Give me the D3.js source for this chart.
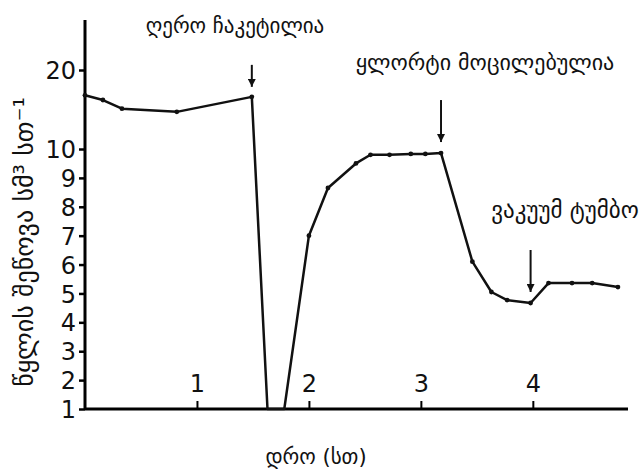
<!DOCTYPE html>
<html>
<head>
<meta charset="utf-8">
<script src="https://d3js.org/d3.v7.min.js"></script>
<style>
  body { margin: 0; background: #fff; }
  text { font-family: "DejaVu Sans", sans-serif; fill: #111; }
</style>
</head>
<body>
<div id="chart"></div>
<script>
// readings: time in hours, uptake in cm3/h
const hours  = [0, 0.16, 0.33, 0.82, 1.49, 1.63, 1.78, 2.0, 2.17, 2.42, 2.55, 2.72, 2.91, 3.04, 3.18, 3.46, 3.63, 3.77, 3.98, 4.14, 4.35, 4.53, 4.76];
const uptake = [16.8, 16.2, 15.1, 14.7, 16.6, 1, 1, 7.0, 8.65, 9.5, 9.8, 9.8, 9.83, 9.83, 9.86, 6.1, 5.05, 4.77, 4.67, 5.36, 5.36, 5.36, 5.22];
const xTicks = [1, 2, 3, 4];
const yTicks = [1, 2, 3, 4, 5, 6, 7, 8, 9, 10, 20];

// annotations: text, arrow at x (hours), arrow tip value
const notes = [
  { label: "ღერო ჩაკეტილია",        x: 1.49, tip: 16.6 },
  { label: "ყლორტი მოცილებულია",    x: 3.18, tip: 9.86 },
  { label: "ვაკუუმ ტუმბო",          x: 3.98, tip: 4.67 }
];

const W = 644, H = 473;
const svg = d3.select("#chart").append("svg")
  .attr("width", W).attr("height", H);

const x = d3.scaleLinear().domain([0, 4.85]).range([85, 628]);
// broken scale: linear up to 10, compressed above
const y = d3.scaleLinear().domain([1, 10, 20, 26.3]).range([409, 149, 70, 20]);

// y axis
const ya = svg.append("g")
  .attr("transform", "translate(85,0)")
  .call(d3.axisLeft(y).tickValues(yTicks).tickSize(6).tickPadding(3).tickFormat(d3.format("d")));
ya.select(".domain").attr("stroke-width", 3).attr("d", `M0,${y(26.3)}V${y(1)}`);
ya.selectAll(".tick line").attr("stroke-width", 2.5);
ya.selectAll(".tick text").attr("font-size", 24).attr("dy", "0.36em")
  .attr("font-family", "DejaVu Sans Condensed, DejaVu Sans");

// x axis
const xa = svg.append("g")
  .attr("transform", `translate(0,${y(1)})`)
  .call(d3.axisBottom(x).tickValues(xTicks).tickSize(-8).tickFormat(d3.format("d")));
xa.select(".domain").attr("stroke-width", 3).attr("d", `M${x(0)},0H${x(4.85)}`);
xa.selectAll(".tick line").attr("stroke-width", 2);
xa.selectAll(".tick text").attr("font-size", 24).attr("y", -17).attr("dy", 0)
  .attr("font-family", "DejaVu Sans Condensed, DejaVu Sans");

// data line
const pts = hours.map((h, i) => ({ h, v: uptake[i] }));
svg.append("path")
  .datum(pts)
  .attr("fill", "none")
  .attr("stroke", "#111")
  .attr("stroke-width", 2.5)
  .attr("stroke-linejoin", "round")
  .attr("d", d3.line().x(d => x(d.h)).y(d => y(d.v)));

svg.selectAll("circle.pt")
  .data(pts.filter(d => d.v > 1))
  .join("circle")
  .attr("class", "pt")
  .attr("cx", d => x(d.h))
  .attr("cy", d => y(d.v))
  .attr("r", 2.4)
  .attr("fill", "#111");

// arrows + labels
const defs = svg.append("defs");
defs.append("marker")
  .attr("id", "ah").attr("viewBox", "0 0 10 10")
  .attr("refX", 10).attr("refY", 5)
  .attr("markerWidth", 4).attr("markerHeight", 4)
  .attr("orient", "auto")
  .append("path").attr("d", "M0,0L10,5L0,10z").attr("fill", "#111");

const arrowLen = [22, 42, 42];
const arrowGap = [10, 11, 11];
const labelPos = [[235, 33], [485, 70], [565, 218]];
const labelSize = [21, 22, 23];

notes.forEach((n, i) => {
  const tipY = y(n.tip) - arrowGap[i];
  svg.append("line")
    .attr("x1", x(n.x)).attr("x2", x(n.x))
    .attr("y1", tipY - arrowLen[i]).attr("y2", tipY)
    .attr("stroke", "#111").attr("stroke-width", 2)
    .attr("marker-end", "url(#ah)");
  svg.append("text")
    .attr("x", labelPos[i][0]).attr("y", labelPos[i][1])
    .attr("text-anchor", "middle")
    .attr("font-size", labelSize[i])
    .text(n.label);
});

// axis titles
svg.append("text")
  .attr("x", 316).attr("y", 464)
  .attr("text-anchor", "middle")
  .attr("font-size", 21)
  .text("დრო (სთ)");

svg.append("text")
  .attr("transform", "translate(33,242) rotate(-90)")
  .attr("text-anchor", "middle")
  .attr("font-size", 26)
  .text("წყლის შეწოვა სმ³ სთ⁻¹");
</script>
</body>
</html>
